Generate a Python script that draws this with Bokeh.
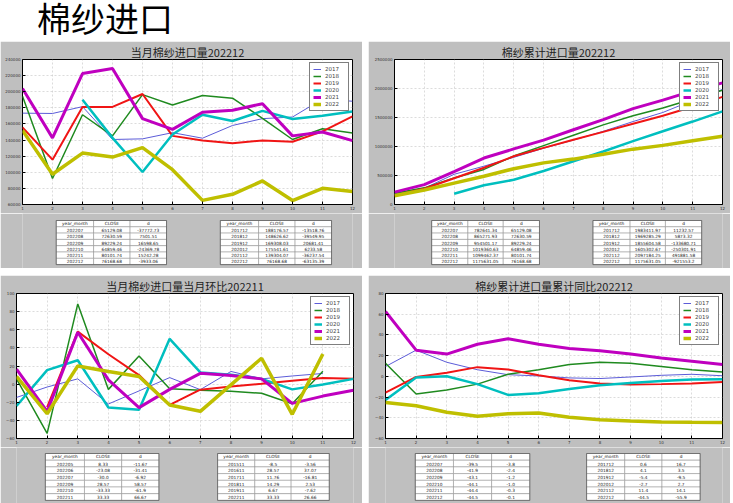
from bokeh.plotting import figure
from bokeh.layouts import column, row
from bokeh.models import Range1d, FixedTicker, BasicTickFormatter, Legend, LegendItem, Spacer, Div
from bokeh.core.properties import value
from bokeh.embed import file_html
from bokeh.resources import INLINE

N = None
months = list(range(1, 13))
years = ["2017", "2018", "2019", "2020", "2021", "2022"]
page_title = "棉纱进口"

# ---- panel 1: monthly imports
p1_2017 = [173400, 173000, 181500, 140700, 141500, 149200, 142300, 158100, 166600, 168600, 191000, 188176.57]
p1_2018 = [194400, 92300, 171400, 145200, 196400, 183500, 195200, 192000, 167000, 140700, 154000, 148626.62]
p1_2019 = [155700, 115700, 181100, 181100, 197200, 145200, 139500, 135900, 139500, 137900, 150800, 169308.03]
p1_2020 = [N, N, 190000, 142700, 100400, 146800, 171400, 163700, 176200, 166100, 170200, 175541.61]
p1_2021 = [204100, 142700, 222600, 228700, 166600, 153200, 174600, 177100, 185100, 145200, 150000, 139304.07]
p1_2022 = [152000, 97500, 123800, 118900, 130600, 103200, 65129.08, 72630.59, 89229.24, 64859.46, 80101.74, 76168.68]

# ---- panel 2: cumulative imports
p2_2017 = [185000, 280000, 521000, 661000, 813000, 970000, 1110000, 1262000, 1430000, 1587000, 1795000, 1983411.97]
p2_2018 = [195000, 287000, 458000, 605000, 835000, 1015000, 1194000, 1373000, 1530000, 1665000, 1820000, 1969285.29]
p2_2019 = [156000, 272000, 453000, 634000, 831000, 976000, 1116000, 1252000, 1391000, 1529000, 1686000, 1855604.58]
p2_2020 = [N, N, 185000, 331000, 426000, 577000, 745000, 913000, 1093000, 1262000, 1430000, 1605302.67]
p2_2021 = [213000, 342000, 566000, 801000, 958000, 1110000, 1289000, 1463000, 1654000, 1800000, 1958000, 2097184.25]
p2_2022 = [152000, 249000, 368000, 487000, 617000, 717500, 782641.34, 865271.93, 954501.17, 1019360.63, 1099462.37, 1175631.05]

# ---- panel 3: month-on-month %
p3_2017 = [-14.7, -3.2, 5.8, -21.9, -7.5, 7.2, -6.1, 14.0, 5.8, 9.0, 11.76, N]
p3_2018 = [5.8, -54.3, 88.5, -5.8, 31.0, -5.0, -6.8, -7.9, -10.1, -21.6, 14.29, N]
p3_2019 = [N, -25.5, 57.9, 33.0, 10.0, -23.0, -6.1, -2.5, 0.4, 3.6, 6.67, 5.8]
p3_2020 = [-24.1, 15.5, 26.3, -25.8, -28.4, 50.0, 12.9, 10.4, 5.8, -5.8, -0.4, 5.8]
p3_2021 = [16.5, -30.2, 57.2, 4.7, -25.9, -5.8, 11.9, 9.4, 5.8, -21.2, -13.2, -6.8]
p3_2022 = [8.6, -32.7, 20.1, 14.0, 8.33, -23.08, -30.0, N, 28.57, -33.33, 33.33, N]

# ---- panel 4: cumulative year-on-year %
p4_2017 = [9.5, 25.3, 13.6, 6.4, 1.6, 0.4, -1.5, -2.1, -0.6, 1.0, 2.0, 0.6]
p4_2018 = [12.7, -17.0, -13.2, -7.5, 2.0, 6.4, 11.4, 13.6, 12.7, 9.5, 6.4, 4.1]
p4_2019 = [-15.7, -0.6, 3.5, 8.9, 6.7, 1.0, -3.7, -6.9, -7.8, -7.5, -6.9, -5.4]
p4_2020 = [-22.7, -1.2, 0.1, -7.5, -17.9, -16.4, -12.3, -8.5, -6.3, -4.4, -3.1, -2.7]
p4_2021 = [62.6, 25.3, 21.5, 31.0, 36.4, 31.0, 26.9, 24.7, 21.5, 17.8, 14.6, 11.4]
p4_2022 = [-25.2, -28.4, -34.7, -38.5, -36.0, -35.3, -39.5, -41.9, -43.1, -44.1, -44.4, -44.5]

# ---- tables
hdr = ["year_month", "CLOSE", "d"]
t1a_ym = ["202207", "202208", "202209", "202210", "202211", "202212"]
t1a_close = [65129.08, 72630.59, 89229.24, 64859.46, 80101.74, 76168.68]
t1a_d = [-37772.73, 7501.51, 16598.65, -24369.78, 15242.28, -3933.06]
t1b_ym = ["201712", "201812", "201912", "202012", "202112", "202212"]
t1b_close = [188176.57, 148626.62, 169308.03, 175541.61, 139304.07, 76168.68]
t1b_d = [-13518.76, -39549.95, 20681.41, 6233.58, -36237.54, -63135.39]

t2a_ym = ["202207", "202208", "202209", "202210", "202211", "202212"]
t2a_close = [782641.34, 865271.93, 954501.17, 1019360.63, 1099462.37, 1175631.05]
t2a_d = [65129.08, 72630.59, 89229.24, 64859.46, 80101.74, 76168.68]
t2b_ym = ["201712", "201812", "201912", "202012", "202112", "202212"]
t2b_close = [1983411.97, 1969285.29, 1855604.58, 1605302.67, 2097184.25, 1175631.05]
t2b_d = [11232.57, 5873.32, -133680.71, -250301.91, 491881.58, -921553.2]

t3a_ym = ["202205", "202206", "202207", "202209", "202210", "202211"]
t3a_close = [8.33, -23.08, -30.0, 28.57, -33.33, 33.33]
t3a_d = [-11.67, -31.41, -6.92, 58.57, -61.9, 66.67]
t3b_ym = ["201511", "201611", "201711", "201811", "201911", "202211"]
t3b_close = [-8.5, 28.57, 11.76, 14.29, 6.67, 33.33]
t3b_d = [-3.56, 37.07, -16.81, 2.53, -7.62, 26.66]

t4a_ym = ["202207", "202208", "202209", "202210", "202211", "202212"]
t4a_close = [-39.5, -41.9, -43.1, -44.1, -44.4, -44.5]
t4a_d = [-3.8, -2.4, -1.2, -1.0, -0.3, -0.1]
t4b_ym = ["201712", "201812", "201912", "202012", "202112", "202212"]
t4b_close = [0.6, 4.1, -5.4, -2.7, 11.4, -44.5]
t4b_d = [16.7, 3.5, -9.5, 2.7, 14.1, -55.9]

GRAY = "#bfbfbf"
COLORS = ["#5c5cd8", "#1f8a1f", "#f01515", "#00bfbf", "#bf00bf", "#bfbf00"]
WIDTHS = [1, 1.5, 2, 2.5, 3, 3.5]
CJK = "Noto Sans CJK SC"
TICKF = "DejaVu Sans"


def chart(title, series, y0, y1, yticks, w, h, bl, br, bt, bb):
    p = figure(width=w, height=h, x_range=Range1d(1, 12), y_range=Range1d(y0, y1),
               output_backend="svg", toolbar_location=None,
               min_border_left=bl, min_border_right=br, min_border_top=bt, min_border_bottom=bb)
    p.background_fill_color = "white"
    p.border_fill_color = GRAY
    p.outline_line_color = "black"
    p.outline_line_width = 1
    p.title.text = title
    p.title.align = "center"
    p.title.text_font = CJK
    p.title.text_font_size = "11px"
    p.title.text_font_style = "normal"
    p.title.text_color = "#222222"
    p.title.standoff = 0
    p.title.offset = 0
    p.xaxis.ticker = FixedTicker(ticks=months)
    p.yaxis.ticker = FixedTicker(ticks=yticks)
    p.yaxis.formatter = BasicTickFormatter(use_scientific=False)
    for ax in (p.xaxis[0], p.yaxis[0]):
        ax.major_label_text_font = TICKF
        ax.major_label_text_font_size = "4px"
        ax.major_label_text_color = "#333333"
        ax.major_tick_in = 3
        ax.major_tick_out = 0
        ax.minor_tick_in = 0
        ax.minor_tick_out = 0
        ax.axis_line_color = None
        ax.major_tick_line_color = "black"
        ax.major_label_standoff = 2
    p.grid.grid_line_color = "#c4c4c4"
    p.grid.grid_line_dash = "2 2"
    p.grid.grid_line_width = 0.6
    items = []
    for yr, vals, c, lw in zip(years, series, COLORS, WIDTHS):
        xs = [m for m, v in zip(months, vals) if v is not None]
        ys = [v for v in vals if v is not None]
        r = p.line(xs, ys, line_color=c, line_width=lw)
        items.append(LegendItem(label=yr, renderers=[r]))
    lg = Legend(items=items, location="top_right")
    lg.label_text_font = TICKF
    lg.label_text_font_size = "5.5px"
    lg.label_height = 6
    lg.glyph_height = 6
    lg.glyph_width = 8
    lg.label_standoff = 4
    lg.spacing = 1
    lg.padding = 3
    lg.margin = 3
    lg.border_line_color = "black"
    lg.border_line_width = 0.8
    lg.background_fill_color = "white"
    lg.background_fill_alpha = 1
    p.add_layout(lg)
    return p


def tables(w, h, specs):
    t = figure(width=w, height=h, x_range=Range1d(0, w), y_range=Range1d(h, 0),
               output_backend="svg", toolbar_location=None, min_border=0,
               x_axis_location=None, y_axis_location=None)
    t.grid.visible = False
    t.outline_line_color = None
    t.background_fill_color = GRAY
    t.border_fill_color = GRAY
    for edges, top, rh, ym, cl, d in specs:
        rows = [hdr] + [[a, str(b), str(c)] for a, b, c in zip(ym, cl, d)]
        L, R, T, B, X, Y, S = [], [], [], [], [], [], []
        for i, r in enumerate(rows):
            for j in range(3):
                L.append(edges[j]); R.append(edges[j + 1])
                T.append(top + i * rh); B.append(top + (i + 1) * rh)
                X.append((edges[j] + edges[j + 1]) / 2); Y.append(top + (i + 0.5) * rh)
                S.append(r[j])
        t.quad(left=L, right=R, top=T, bottom=B, fill_color="white",
               line_color="#8c8c8c", line_width=0.5)
        t.quad(left=[edges[0]], right=[edges[3]], top=[top], bottom=[top + 7 * rh],
               fill_color=None, line_color="#555555", line_width=0.7)
        t.text(x=X, y=Y, text=S, text_align="center", text_baseline="middle",
               text_font=value(TICKF), text_font_size="4.3px", text_color="#222222",
               text_line_height=1.0)
    return t


header = Div(text=page_title, width=733, height=41,
             styles={"font-family": "'Liberation Sans', 'Noto Sans CJK SC', sans-serif",
                     "font-size": "34px", "line-height": "41px",
                     "padding-left": "37px", "color": "black", "background": "white",
                     "box-sizing": "border-box", "margin": "0", "white-space": "nowrap"})

c1 = chart("当月棉纱进口量202212", [p1_2017, p1_2018, p1_2019, p1_2020, p1_2021, p1_2022],
           60000, 240000, list(range(60000, 240001, 20000)), 362, 172, 22, 10, 15, 9)
c2 = chart("棉纱累计进口量202212", [p2_2017, p2_2018, p2_2019, p2_2020, p2_2021, p2_2022],
           0, 2500000, list(range(0, 2500001, 500000)), 362, 172, 26, 8, 15, 9)
c3 = chart("当月棉纱进口量当月环比202211", [p3_2017, p3_2018, p3_2019, p3_2020, p3_2021, p3_2022],
           -60, 100, list(range(-60, 101, 20)), 362, 172, 16, 9, 14, 9)
c4 = chart("棉纱累计进口量累计同比202212", [p4_2017, p4_2018, p4_2019, p4_2020, p4_2021, p4_2022],
           -60, 80, list(range(-60, 81, 20)), 362, 172, 17, 8, 15, 9)

tb1 = tables(362, 55, [([37, 78, 118, 158], 7, 6.3, t1a_ym, t1a_close, t1a_d),
                       ([217, 259, 299, 339], 7, 6.3, t1b_ym, t1b_close, t1b_d)])
tb2 = tables(362, 55, [([41, 81, 120, 160], 7, 6.3, t2a_ym, t2a_close, t2a_d),
                       ([219, 260, 299, 339], 7, 6.3, t2b_ym, t2b_close, t2b_d)])
tb3 = tables(362, 56, [([31, 73, 113, 153], 6, 6.7, t3a_ym, t3a_close, t3a_d),
                       ([216, 256, 295, 336], 6, 6.7, t3b_ym, t3b_close, t3b_d)])
tb4 = tables(362, 56, [([32, 73, 114, 155], 6, 6.7, t4a_ym, t4a_close, t4a_d),
                       ([216, 257, 297, 338], 6, 6.7, t4b_ym, t4b_close, t4b_d)])

layout = column(
    header,
    row(column(c1, tb1), Spacer(width=6, height=227), column(c2, tb2)),
    Spacer(width=733, height=7),
    row(column(c3, tb3), Spacer(width=6, height=228), column(c4, tb4)),
)

open("out.html", "w").write(file_html(layout, INLINE))
